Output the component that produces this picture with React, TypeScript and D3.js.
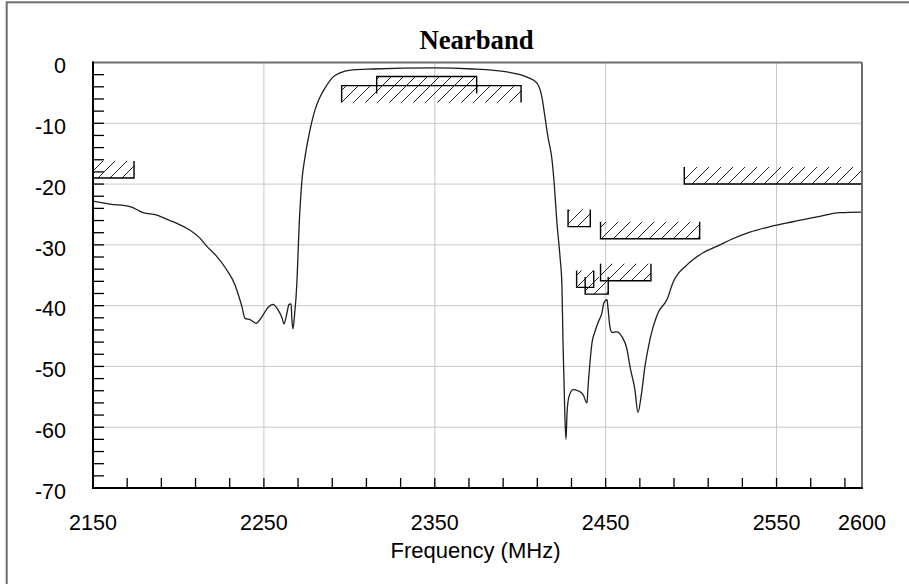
import React, { useEffect, useRef } from "react";
import * as d3 from "d3";

// filter response
const freqMHz = [
  2150, 2160, 2171.6, 2179.4, 2187.3, 2195.1, 2200.9, 2206.8, 2212.6, 2216.5,
  2222.4, 2228.2, 2233.1, 2235.6, 2237.2, 2238.9, 2241.9, 2245.4, 2248.9, 2252.4,
  2255.3, 2258.3, 2260.6, 2261.8, 2263.5, 2264.7, 2265.9, 2266.4, 2267.0, 2268.2,
  2268.8, 2269.4, 2270.6, 2272.3, 2274.1, 2277.0, 2279.9, 2282.8, 2286.9, 2290.4,
  2294.5, 2302.1, 2313.8, 2349.0, 2372.3, 2392.2, 2404.0, 2409.8, 2412.7, 2414.5,
  2416.2, 2418.6, 2419.7, 2421.5, 2423.3, 2424.4, 2425.0, 2425.6, 2426.2, 2426.8,
  2427.4, 2428.5, 2430.9, 2433.8, 2436.7, 2439.1, 2439.6, 2440.8, 2442.0, 2443.7,
  2445.5, 2447.8, 2449.0, 2450.8, 2451.3, 2452.5, 2453.7, 2456.6, 2459.5, 2462.5,
  2464.2, 2467.1, 2468.9, 2470.7, 2473.0, 2475.9, 2480.6, 2485.9, 2489.4, 2497.6,
  2507.0, 2516.9, 2522.7, 2534.4, 2546.1, 2559.6, 2573.6, 2587.1, 2600,
];
const responseDb = [
  -22.8, -23.3, -23.7, -24.7, -25.1, -26.0, -26.7, -27.6, -28.9, -30.2,
  -31.9, -34.1, -36.6, -38.7, -40.2, -42.1, -42.3, -42.9, -41.8, -40.3,
  -39.8, -40.7, -42.0, -43.0, -41.2, -39.8, -39.7, -42.3, -43.8, -40.7,
  -38.7, -35.7, -27.0, -19.3, -15.5, -11.1, -7.8, -5.7, -3.7, -2.4,
  -1.7, -1.2, -1.07, -0.9, -1.07, -1.56, -2.4, -3.4, -5.7, -9.0,
  -12.2, -16.0, -19.3, -26.4, -32.0, -36.6, -45.6, -52.2, -58.8, -62.0,
  -57.6, -55.0, -53.8, -54.0, -54.6, -56.0, -53.8, -49.4, -46.1, -44.3,
  -42.8, -41.2, -39.5, -39.0, -40.2, -43.5, -44.4, -44.3, -45.1, -47.2,
  -50.0, -53.8, -57.6, -55.0, -50.0, -45.6, -41.2, -39.0, -36.2, -33.3,
  -31.3, -30.0, -29.2, -27.9, -27.0, -26.2, -25.4, -24.7, -24.6,
];

// spec masks: "above" = hatched above the limit line, "below" = hatched under it
const maskStart = [2150, 2295.5, 2316, 2428, 2447, 2433, 2438, 2447, 2496];
const maskEnd = [2174, 2400.5, 2374.5, 2441, 2505, 2443, 2451.5, 2476.5, 2600];
const maskLevel = [-19, -3.8, -2.3, -27, -29, -37, -38.1, -35.9, -20];
const maskSide = ["above", "below", "below", "above", "above", "above", "above", "above", "above"];

const xTickLabels = [2150, 2250, 2350, 2450, 2550, 2600];
const xGridLines = [2250, 2350, 2450, 2550];
const yTickLabels = [0, -10, -20, -30, -40, -50, -60, -70];
const yGridLines = [-10, -20, -30, -40, -50, -60];

const App: React.FC = () => {
  const svgRef = useRef<SVGSVGElement>(null);

  useEffect(() => {
    const left = 93;
    const right = 862;
    const top = 62.5;
    const bottom = 488;
    const hatchDepth = 17;
    const sans = "'Liberation Sans', Arial, sans-serif";

    const x = d3.scaleLinear().domain([2150, 2600]).range([left, right]);
    const y = d3.scaleLinear().domain([0, -70]).range([top, bottom]);

    const svg = d3.select(svgRef.current);
    svg.selectAll("*").remove();

    // hatch pattern
    const pat = svg.append("defs").append("pattern")
      .attr("id", "hatch")
      .attr("patternUnits", "userSpaceOnUse")
      .attr("width", 12)
      .attr("height", 12);
    pat.append("path")
      .attr("d", "M0,12 L12,0 M-1,1 L1,-1 M11,13 L13,11")
      .attr("stroke", "#222")
      .attr("stroke-width", 1);

    svg.append("rect")
      .attr("x", 0).attr("y", 0).attr("width", 909).attr("height", 584)
      .attr("fill", "#fff");

    // outer frame
    svg.append("rect")
      .attr("x", 6.7).attr("y", 2.3).attr("width", 920).attr("height", 600)
      .attr("fill", "none")
      .attr("stroke", "#6e6e6e")
      .attr("stroke-width", 2);

    // grid
    svg.append("g").selectAll("line").data(xGridLines).join("line")
      .attr("x1", d => x(d)).attr("x2", d => x(d))
      .attr("y1", top).attr("y2", bottom)
      .attr("stroke", "#c8c8c8").attr("stroke-width", 1);
    svg.append("g").selectAll("line").data(yGridLines).join("line")
      .attr("x1", left).attr("x2", right)
      .attr("y1", d => y(d)).attr("y2", d => y(d))
      .attr("stroke", "#c8c8c8").attr("stroke-width", 1);

    // minor ticks
    svg.append("g").selectAll("line").data(d3.range(2170, 2600, 20)).join("line")
      .attr("x1", d => x(d)).attr("x2", d => x(d))
      .attr("y1", bottom).attr("y2", bottom - 10)
      .attr("stroke", "#000").attr("stroke-width", 1.3);
    svg.append("g").selectAll("line").data(d3.range(-2, -70, -2)).join("line")
      .attr("x1", left).attr("x2", left + 11)
      .attr("y1", d => y(d)).attr("y2", d => y(d))
      .attr("stroke", "#000").attr("stroke-width", 1.3);

    // masks
    const masks = maskStart.map((s, i) => ({
      x0: x(s), x1: x(maskEnd[i]), ly: y(maskLevel[i]),
      dir: maskSide[i] === "above" ? -1 : 1,
    }));
    const mg = svg.append("g");
    masks.forEach(m => {
      const yEnd = m.ly + m.dir * hatchDepth;
      mg.append("rect")
        .attr("x", m.x0).attr("width", m.x1 - m.x0)
        .attr("y", Math.min(m.ly, yEnd)).attr("height", hatchDepth)
        .attr("fill", "url(#hatch)");
      mg.append("path")
        .attr("d", `M${m.x0},${yEnd} L${m.x0},${m.ly} L${m.x1},${m.ly} L${m.x1},${yEnd}`)
        .attr("fill", "none")
        .attr("stroke", "#000")
        .attr("stroke-width", 1.4);
    });

    // response curve
    const line = d3.line<number>()
      .x((d, i) => x(freqMHz[i]))
      .y(d => y(d))
      .curve(d3.curveMonotoneX);
    svg.append("path")
      .attr("d", line(responseDb)!)
      .attr("fill", "none")
      .attr("stroke", "#1e1e1e")
      .attr("stroke-width", 1.3)
      .attr("stroke-linejoin", "round");

    // plot border
    svg.append("line").attr("x1", left).attr("x2", right).attr("y1", top).attr("y2", top)
      .attr("stroke", "#6e6e6e").attr("stroke-width", 2);
    svg.append("line").attr("x1", right).attr("x2", right).attr("y1", top).attr("y2", bottom)
      .attr("stroke", "#6e6e6e").attr("stroke-width", 2);
    svg.append("line").attr("x1", left).attr("x2", left).attr("y1", top - 1).attr("y2", bottom + 1)
      .attr("stroke", "#000").attr("stroke-width", 2);
    svg.append("line").attr("x1", left - 1).attr("x2", right + 1).attr("y1", bottom).attr("y2", bottom)
      .attr("stroke", "#000").attr("stroke-width", 2);

    // tick labels
    svg.append("g").selectAll("text").data(xTickLabels).join("text")
      .attr("x", d => x(d)).attr("y", 530)
      .attr("text-anchor", "middle")
      .attr("font-family", sans).attr("font-size", 21.5)
      .text(d => d);
    svg.append("g").selectAll("text").data(yTickLabels).join("text")
      .attr("x", 66).attr("y", d => y(d) + 10.7)
      .attr("text-anchor", "end")
      .attr("font-family", sans).attr("font-size", 21.5)
      .text(d => d);

    // titles
    svg.append("text")
      .attr("x", 476.5).attr("y", 49)
      .attr("text-anchor", "middle")
      .attr("font-family", "'Liberation Serif', 'Times New Roman', serif")
      .attr("font-weight", "bold").attr("font-size", 26.7)
      .text("Nearband");
    svg.append("text")
      .attr("x", 475.5).attr("y", 558)
      .attr("text-anchor", "middle")
      .attr("font-family", sans).attr("font-size", 22)
      .text("Frequency (MHz)");
  }, []);

  return (
    <svg ref={svgRef} width={909} height={584}
      style={{ position: "absolute", left: 0, top: 0 }}></svg>
  );
};

export default App;
